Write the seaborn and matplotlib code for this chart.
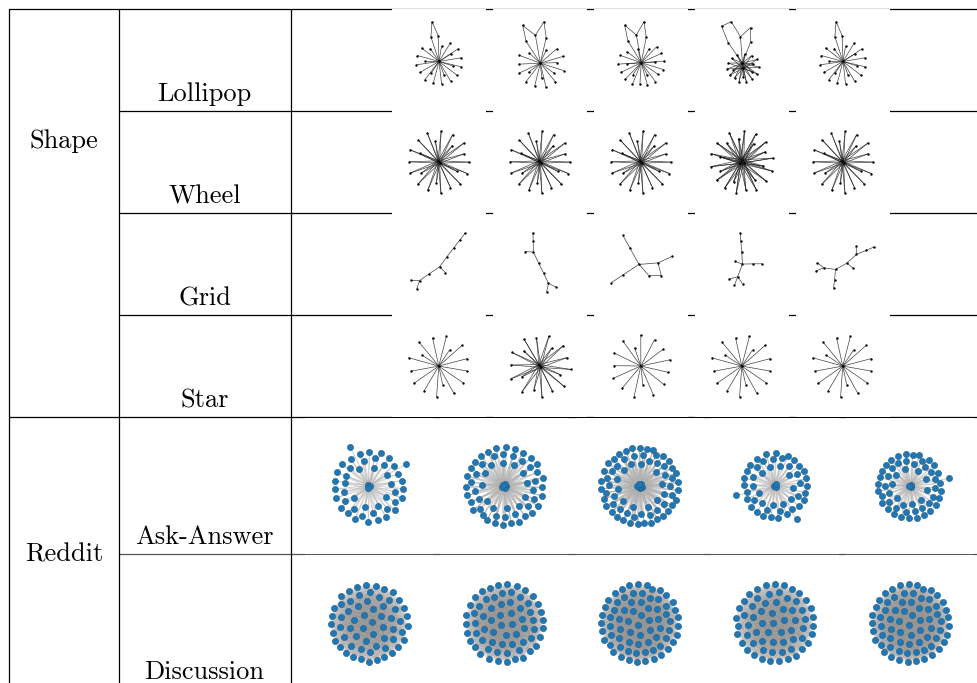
import numpy as np
import matplotlib
matplotlib.use("Agg")
import matplotlib.pyplot as plt
from matplotlib.lines import Line2D
from matplotlib.collections import LineCollection
import seaborn as sns

# ---------------------------------------------------------------- data
SECTIONS = ["Shape", "Reddit"]
SHAPE_ROWS = ["Lollipop", "Wheel", "Grid", "Star"]
REDDIT_ROWS = ["Ask-Answer", "Discussion"]

# Lollipop: hub(s) with leaves plus a loop of nodes closed through the first hub
LOLLIPOP_HUBS = [1, 1, 1, 2, 1]
LOLLIPOP_LEAVES = [20, 16, 20, 18, 20]
LOLLIPOP_LOOP = [3, 5, 5, 6, 3]

# Wheel: several linked hubs sharing the same ring of leaves
WHEEL_HUBS = [2, 2, 2, 3, 2]
WHEEL_LEAVES = [22, 22, 22, 24, 22]

# Grid: small trees given as edge lists
GRID_EDGES = [
    [(0, 1), (1, 2), (2, 3), (3, 4), (4, 5), (4, 6), (6, 7), (7, 8), (7, 9)],
    [(0, 1), (1, 2), (2, 3), (2, 4), (4, 5), (5, 6), (6, 7), (6, 8)],
    [(0, 1), (1, 2), (3, 4), (4, 2), (2, 5), (2, 6), (5, 7), (6, 7), (6, 8)],
    [(0, 1), (1, 2), (2, 3), (3, 4), (3, 5), (5, 6), (3, 7), (7, 8), (7, 9), (7, 10)],
    [(0, 1), (1, 2), (2, 3), (1, 4), (4, 5), (4, 6), (6, 7), (7, 8), (6, 9), (9, 10), (9, 11)],
]

# Star: hub(s) and leaves
STAR_HUBS = [1, 2, 1, 1, 1]
STAR_LEAVES = [16, 18, 15, 16, 16]

# Reddit ask-answer threads: askers (hubs) answered by many leaves,
# plus a few replies tied to the first two askers only
ASK_HUBS = [3, 5, 6, 3, 3]
ASK_LEAVES = [44, 58, 68, 48, 55]
ASK_LOOSE = [2, 0, 0, 2, 1]

# Reddit discussion threads: everyone talks with everyone
DISCUSSION_NODES = [62, 66, 72, 64, 72]


# ---------------------------------------------------------------- graphs
def hub_graph(hubs, leaves, linked=False):
    edges = []
    for h in range(hubs):
        for leaf in range(hubs, hubs + leaves):
            edges.append((h, leaf))
    if linked:
        for a in range(hubs):
            for b in range(a + 1, hubs):
                edges.append((a, b))
    return hubs + leaves, edges, None


def lollipop_graph(hubs, leaves, loop):
    n, edges, _ = hub_graph(hubs, leaves, linked=True)
    ring = list(range(n, n + loop))
    for a, b in zip(ring[:-1], ring[1:]):
        edges.append((a, b))
    edges.append((0, ring[0]))
    edges.append((0, ring[-1]))
    if loop >= 5:
        edges.append((0, ring[loop // 2]))
    return n + loop, edges, ring


def tree_graph(edge_list):
    n = max(max(e) for e in edge_list) + 1
    return n, list(edge_list), None


def ask_graph(hubs, leaves, loose):
    n, edges, _ = hub_graph(hubs, leaves, linked=True)
    for _ in range(loose):
        edges.append((0, n))
        edges.append((1, n))
        n += 1
    return n, edges, None


def complete_graph(n):
    return n, [(a, b) for a in range(n) for b in range(a + 1, n)], None


def spring_layout(n, edges, iterations=300):
    """Fruchterman-Reingold layout started from a sunflower arrangement."""
    idx = np.arange(n)
    r = np.sqrt((idx + 0.5) / n)
    th = idx * 2.399963
    pos = np.c_[r * np.cos(th), r * np.sin(th)] * 0.5 + 0.5
    A = np.zeros((n, n))
    for a, b in edges:
        A[a, b] = A[b, a] = 1.0
    k = np.sqrt(1.0 / n)
    t = 0.1
    dt = t / (iterations + 1)
    for _ in range(iterations):
        delta = pos[:, None, :] - pos[None, :, :]
        dist = np.linalg.norm(delta, axis=-1)
        np.clip(dist, 0.01, None, out=dist)
        force = k * k / dist ** 2 - A * dist / k
        disp = np.einsum("ijk,ij->ik", delta, force)
        length = np.linalg.norm(disp, axis=-1)
        length = np.where(length < 0.01, 0.1, length)
        pos += disp * (t / length)[:, None]
        t -= dt
    pos -= pos.mean(axis=0)
    pos /= np.abs(pos).max()
    return pos


def turn_up(pos, group):
    """Rotate a layout so that the given node group sits above node 0."""
    v = pos[group].mean(axis=0) - pos[0]
    ang = np.deg2rad(100) - np.arctan2(v[1], v[0])
    rot = np.array([[np.cos(ang), -np.sin(ang)], [np.sin(ang), np.cos(ang)]])
    out = pos @ rot.T
    out -= out.mean(axis=0)
    return out / np.abs(out).max()


# ---------------------------------------------------------------- figure
sns.set_theme(style="white")
plt.rcParams["font.family"] = ["cmr10", "DejaVu Serif"]
plt.rcParams["text.color"] = "black"

W, H = 977, 683
fig = plt.figure(figsize=(W / 100, H / 100), dpi=100)
fig.patch.set_facecolor("white")


def fx(x):
    return x / W


def fy(y):
    return 1 - y / H


def hline(y, x1, x2, color="black", lw=0.9):
    fig.add_artist(Line2D([fx(x1), fx(x2)], [fy(y), fy(y)], transform=fig.transFigure,
                          color=color, lw=lw, zorder=0.5))


def vline(x, y1, y2, color="black", lw=0.9):
    fig.add_artist(Line2D([fx(x), fx(x)], [fy(y1), fy(y2)], transform=fig.transFigure,
                          color=color, lw=lw, zorder=0.5))


def panel(x0, y0, w, h, half):
    ax = fig.add_axes([fx(x0), fy(y0 + h), w / W, h / H], zorder=1)
    ax.set_facecolor("white")
    for s in ax.spines.values():
        s.set_visible(False)
    ax.set_xticks([])
    ax.set_yticks([])
    ax.set_xlim(-half, half)
    ax.set_ylim(-half * h / w, half * h / w)
    return ax


def draw_graph(ax, n, edges, group, kind):
    pos = spring_layout(n, edges)
    if group is not None:
        pos = turn_up(pos, group)
    segs = pos[np.array(edges)]
    if kind == "shape":
        ax.add_collection(LineCollection(segs, colors="#222222", linewidths=0.5, alpha=0.85))
        sns.scatterplot(x=pos[:, 0], y=pos[:, 1], ax=ax, s=3, color="black",
                        edgecolor="black", linewidth=0, legend=False, zorder=3)
    else:
        if kind == "dense":
            ax.add_collection(LineCollection(segs, colors="#959595", linewidths=0.3, alpha=0.2))
        else:
            ax.add_collection(LineCollection(segs, colors="#b0b0b0", linewidths=0.45, alpha=0.55))
        sns.scatterplot(x=pos[:, 0], y=pos[:, 1], ax=ax, s=20, color="#1f77b4",
                        edgecolor="#225d87", linewidth=0.4, legend=False, zorder=3)


# table rules
TOP, MID = 8.5, 416.5
SHAPE_ROW_H = 102.0
REDDIT_ROW_H = 137.0
hline(TOP, 8.5, W)
hline(MID, 8.5, W)
for r in range(1, 4):
    hline(TOP + r * SHAPE_ROW_H, 119, W)
hline(MID + REDDIT_ROW_H, 119, W, color="#555555")
vline(9, TOP, H)
vline(119, TOP, H)
vline(290.5, TOP, H)

# labels
fig.text(fx(64), fy(148), SECTIONS[0], ha="center", va="baseline", fontsize=19)
fig.text(fx(64), fy(562), SECTIONS[1], ha="center", va="baseline", fontsize=19)
for r, name in enumerate(SHAPE_ROWS):
    fig.text(fx(204.5), fy(TOP + (r + 1) * SHAPE_ROW_H - 9), name,
             ha="center", va="baseline", fontsize=19)
for r, name in enumerate(REDDIT_ROWS):
    base = MID + (r + 1) * REDDIT_ROW_H - 9 if r == 0 else 679
    fig.text(fx(204.5), fy(base), name, ha="center", va="baseline", fontsize=19)

# shape panels
shape_graphs = [
    [lollipop_graph(h, l, c) for h, l, c in zip(LOLLIPOP_HUBS, LOLLIPOP_LEAVES, LOLLIPOP_LOOP)],
    [hub_graph(h, l, linked=True) for h, l in zip(WHEEL_HUBS, WHEEL_LEAVES)],
    [tree_graph(e) for e in GRID_EDGES],
    [hub_graph(h, l, linked=True) for h, l in zip(STAR_HUBS, STAR_LEAVES)],
]
SHAPE_HALF = [1.22, 1.5, 1.5, 1.5]
SW, SP = 93.5, 101.0
for r, row in enumerate(shape_graphs):
    for c, (n, edges, group) in enumerate(row):
        ax = panel(392 + c * SP, TOP + r * SHAPE_ROW_H + 0.7, SW, SHAPE_ROW_H - 0.4,
                   SHAPE_HALF[r])
        draw_graph(ax, n, edges, group, "shape")

# reddit panels
reddit_graphs = [
    ([ask_graph(h, l, p) for h, l, p in zip(ASK_HUBS, ASK_LEAVES, ASK_LOOSE)], "sparse"),
    ([complete_graph(n) for n in DISCUSSION_NODES], "dense"),
]
RW, RP = 128.0, 135.3
for r, (row, kind) in enumerate(reddit_graphs):
    for c, (n, edges, group) in enumerate(row):
        ax = panel(305 + c * RP, MID + r * REDDIT_ROW_H + 1.2, RW, REDDIT_ROW_H - 0.4, 1.65)
        draw_graph(ax, n, edges, group, kind)

fig.savefig("out.png", dpi=100, facecolor="white")
